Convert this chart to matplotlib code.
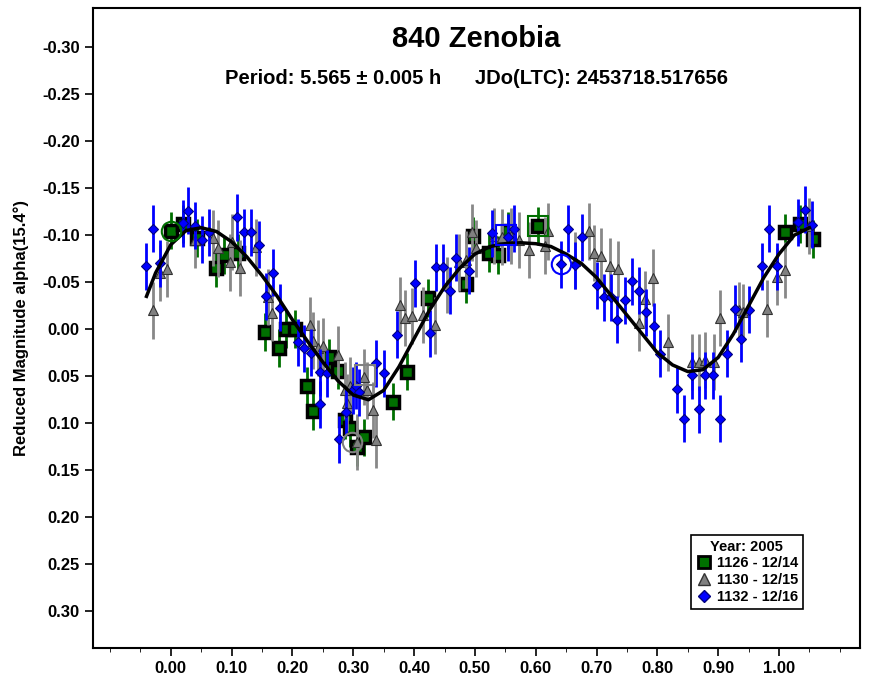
import matplotlib
matplotlib.use("Agg")
import matplotlib.pyplot as plt
from matplotlib.lines import Line2D
plt.rcParams['font.family'] = 'Liberation Sans'

g_ph = [0.00,0.02,0.043,0.074,0.087,0.11,0.155,0.178,0.19,0.204,0.224,0.234,0.26,0.275,0.286,0.294,0.306,0.317,0.365,0.388,0.423,0.485,0.497,0.523,0.538,0.554,0.604,1.01,1.035,1.056]
g_mag = [-0.105,-0.112,-0.097,-0.065,-0.079,-0.081,0.003,0.02,0.0,0.0,0.06,0.087,0.03,0.044,0.097,0.105,0.125,0.115,0.077,0.045,-0.033,-0.048,-0.099,-0.081,-0.079,-0.105,-0.11,-0.103,-0.112,-0.096]
a_ph = [-0.03,-0.018,-0.007,0.04,0.069,0.077,0.097,0.1,0.113,0.14,0.16,0.166,0.229,0.234,0.242,0.25,0.275,0.286,0.29,0.294,0.306,0.317,0.322,0.332,0.337,0.377,0.385,0.396,0.414,0.434,0.454,0.474,0.485,0.495,0.502,0.531,0.544,0.56,0.572,0.589,0.615,0.62,0.665,0.687,0.696,0.707,0.722,0.735,0.77,0.78,0.793,0.817,0.857,0.868,0.878,0.893,0.903,0.934,0.94,0.98,0.997,1.01,1.05]
a_mag = [-0.02,-0.06,-0.064,-0.095,-0.097,-0.086,-0.071,-0.093,-0.065,-0.087,-0.034,-0.017,-0.004,0.012,0.02,0.018,0.027,0.065,0.078,0.06,0.12,0.051,0.065,0.086,0.118,-0.026,-0.012,-0.014,-0.015,-0.004,-0.047,-0.071,-0.074,-0.103,-0.086,-0.099,-0.098,-0.099,-0.095,-0.084,-0.089,-0.104,-0.073,-0.104,-0.081,-0.078,-0.067,-0.064,-0.007,-0.032,-0.055,0.014,0.035,0.035,0.033,0.035,-0.012,-0.02,-0.018,-0.022,-0.056,-0.063,-0.11]
b_ph = [-0.04,-0.03,-0.018,0.02,0.028,0.04,0.051,0.063,0.109,0.12,0.132,0.145,0.168,0.156,0.179,0.209,0.219,0.23,0.245,0.245,0.257,0.276,0.288,0.299,0.304,0.309,0.337,0.35,0.372,0.401,0.426,0.436,0.447,0.459,0.469,0.49,0.528,0.554,0.564,0.641,0.653,0.665,0.676,0.701,0.712,0.724,0.734,0.747,0.759,0.77,0.781,0.794,0.804,0.832,0.844,0.857,0.868,0.879,0.891,0.903,0.914,0.928,0.938,0.951,0.972,0.984,0.997,1.031,1.043,1.054]
b_mag = [-0.067,-0.107,-0.07,-0.113,-0.126,-0.11,-0.095,-0.103,-0.119,-0.103,-0.103,-0.09,-0.06,-0.035,-0.023,0.014,0.02,0.025,0.046,0.08,0.047,0.117,0.088,0.065,0.06,0.067,0.036,0.047,0.006,-0.049,0.004,-0.066,-0.066,-0.041,-0.076,-0.062,-0.102,-0.098,-0.107,-0.069,-0.107,-0.068,-0.098,-0.047,-0.034,-0.034,-0.01,-0.031,-0.051,-0.041,-0.018,-0.003,0.026,0.064,0.095,0.049,0.085,0.049,0.049,0.095,0.026,-0.022,0.01,-0.021,-0.067,-0.107,-0.067,-0.114,-0.127,-0.111]
err_g, err_a, err_b = 0.02, 0.03, 0.025
fit_ph = [-0.04,-0.025,0.0,0.025,0.05,0.075,0.1,0.125,0.15,0.175,0.2,0.225,0.25,0.275,0.3,0.325,0.35,0.375,0.4,0.425,0.45,0.475,0.5,0.525,0.55,0.575,0.6,0.625,0.65,0.675,0.7,0.725,0.75,0.775,0.8,0.825,0.85,0.875,0.9,0.925,0.95,0.975,1.0,1.025,1.05]
fit_mag = [-0.035,-0.06,-0.09,-0.105,-0.108,-0.104,-0.093,-0.077,-0.057,-0.035,-0.01,0.013,0.035,0.055,0.07,0.075,0.065,0.04,0.01,-0.02,-0.045,-0.065,-0.08,-0.088,-0.091,-0.092,-0.091,-0.088,-0.08,-0.07,-0.055,-0.035,-0.015,0.005,0.025,0.038,0.045,0.043,0.03,0.005,-0.025,-0.055,-0.08,-0.1,-0.108]
xticks = [0.0,0.1,0.2,0.3,0.4,0.5,0.6,0.7,0.8,0.9,1.0]
yticks = [-0.30,-0.25,-0.20,-0.15,-0.10,-0.05,0.0,0.05,0.10,0.15,0.20,0.25,0.30]

fig = plt.figure(figsize=(8.73,6.82), dpi=100)
ax = fig.add_axes([0.1065,0.0499,0.8785,0.9381])
ax.errorbar(a_ph, a_mag, yerr=err_a, fmt='^', ms=7.5, mfc='#808080', mec='#333333', mew=0.8, ecolor='#888888', elinewidth=2, zorder=3)
ax.errorbar(g_ph, g_mag, yerr=err_g, fmt='s', ms=8, mfc='#007000', mec='black', mew=2.5, ecolor='#007000', elinewidth=2, zorder=2)
ax.errorbar(b_ph, b_mag, yerr=err_b, fmt='D', ms=5.5, mfc='#0000ff', mec='#000080', mew=0.8, ecolor='#0000ff', elinewidth=2, zorder=4)
ax.plot(fit_ph, fit_mag, color='black', lw=2.5, zorder=5)
ax.plot([g_ph[0]],[g_mag[0]],'o',ms=14,mfc='none',mec='#007000',mew=1.5,zorder=6)
ax.plot([g_ph[26]],[g_mag[26]],'s',ms=15,mfc='none',mec='#007000',mew=1.5,zorder=6)
ax.plot([0.319],[0.049],'s',ms=15,mfc='none',mec='#808080',mew=1.5,zorder=6)
ax.plot([0.298],[0.12],'o',ms=14,mfc='none',mec='#808080',mew=1.5,zorder=6)
ax.plot([0.551],[-0.1],'s',ms=15,mfc='none',mec='#0000ff',mew=1.5,zorder=6)
ax.plot([b_ph[39]],[b_mag[39]],'o',ms=14,mfc='none',mec='#0000ff',mew=1.5,zorder=6)

ax.set_xlim(-0.128,1.133)
ax.set_ylim(0.339,-0.3415)
ax.set_xticks(xticks)
ax.set_xticklabels([f"{v:.2f}" for v in xticks], fontweight='bold', fontsize=12)
ax.set_yticks(yticks)
ax.set_yticklabels([f"{v:.2f}" for v in yticks], fontweight='bold', fontsize=12)
ax.set_xticks([i*0.05-0.1 for i in range(25)], minor=True)
ax.tick_params(axis='both', direction='out', length=6, width=1.2)
ax.tick_params(which='minor', direction='out', length=3)
for s in ax.spines.values():
    s.set_linewidth(1.5)
ax.set_ylabel("Reduced Magnitude alpha(15.4°)", fontweight='bold', fontsize=12)
ax.yaxis.set_label_coords(-0.083, 0.5)
ax.text(0.5, 0.94, "840 Zenobia", transform=ax.transAxes, ha='center', fontsize=21, fontweight='bold')
ax.text(0.5, 0.882, "Period: 5.565 ± 0.005 h      JDo(LTC): 2453718.517656", transform=ax.transAxes, ha='center', fontsize=14.5, fontweight='bold')
handles = [Line2D([],[],ls='none',marker='s',ms=8,mfc='#007000',mec='black',mew=2),
           Line2D([],[],ls='none',marker='^',ms=8,mfc='#808080',mec='#333333'),
           Line2D([],[],ls='none',marker='D',ms=6,mfc='#0000ff',mec='#000080')]
leg = ax.legend(handles, ["1126 - 12/14","1130 - 12/15","1132 - 12/16"], title="Year: 2005",
                loc='lower right', bbox_to_anchor=(0.935,0.05), prop={'weight':'bold','size':10.5},
                title_fontproperties={'weight':'bold','size':10.5}, fancybox=False, edgecolor='black',
                framealpha=1, handletextpad=0.3, borderpad=0.3, labelspacing=0.2, handlelength=1.2)
leg.get_frame().set_linewidth(1.2)
fig.savefig("out.png", dpi=100)
